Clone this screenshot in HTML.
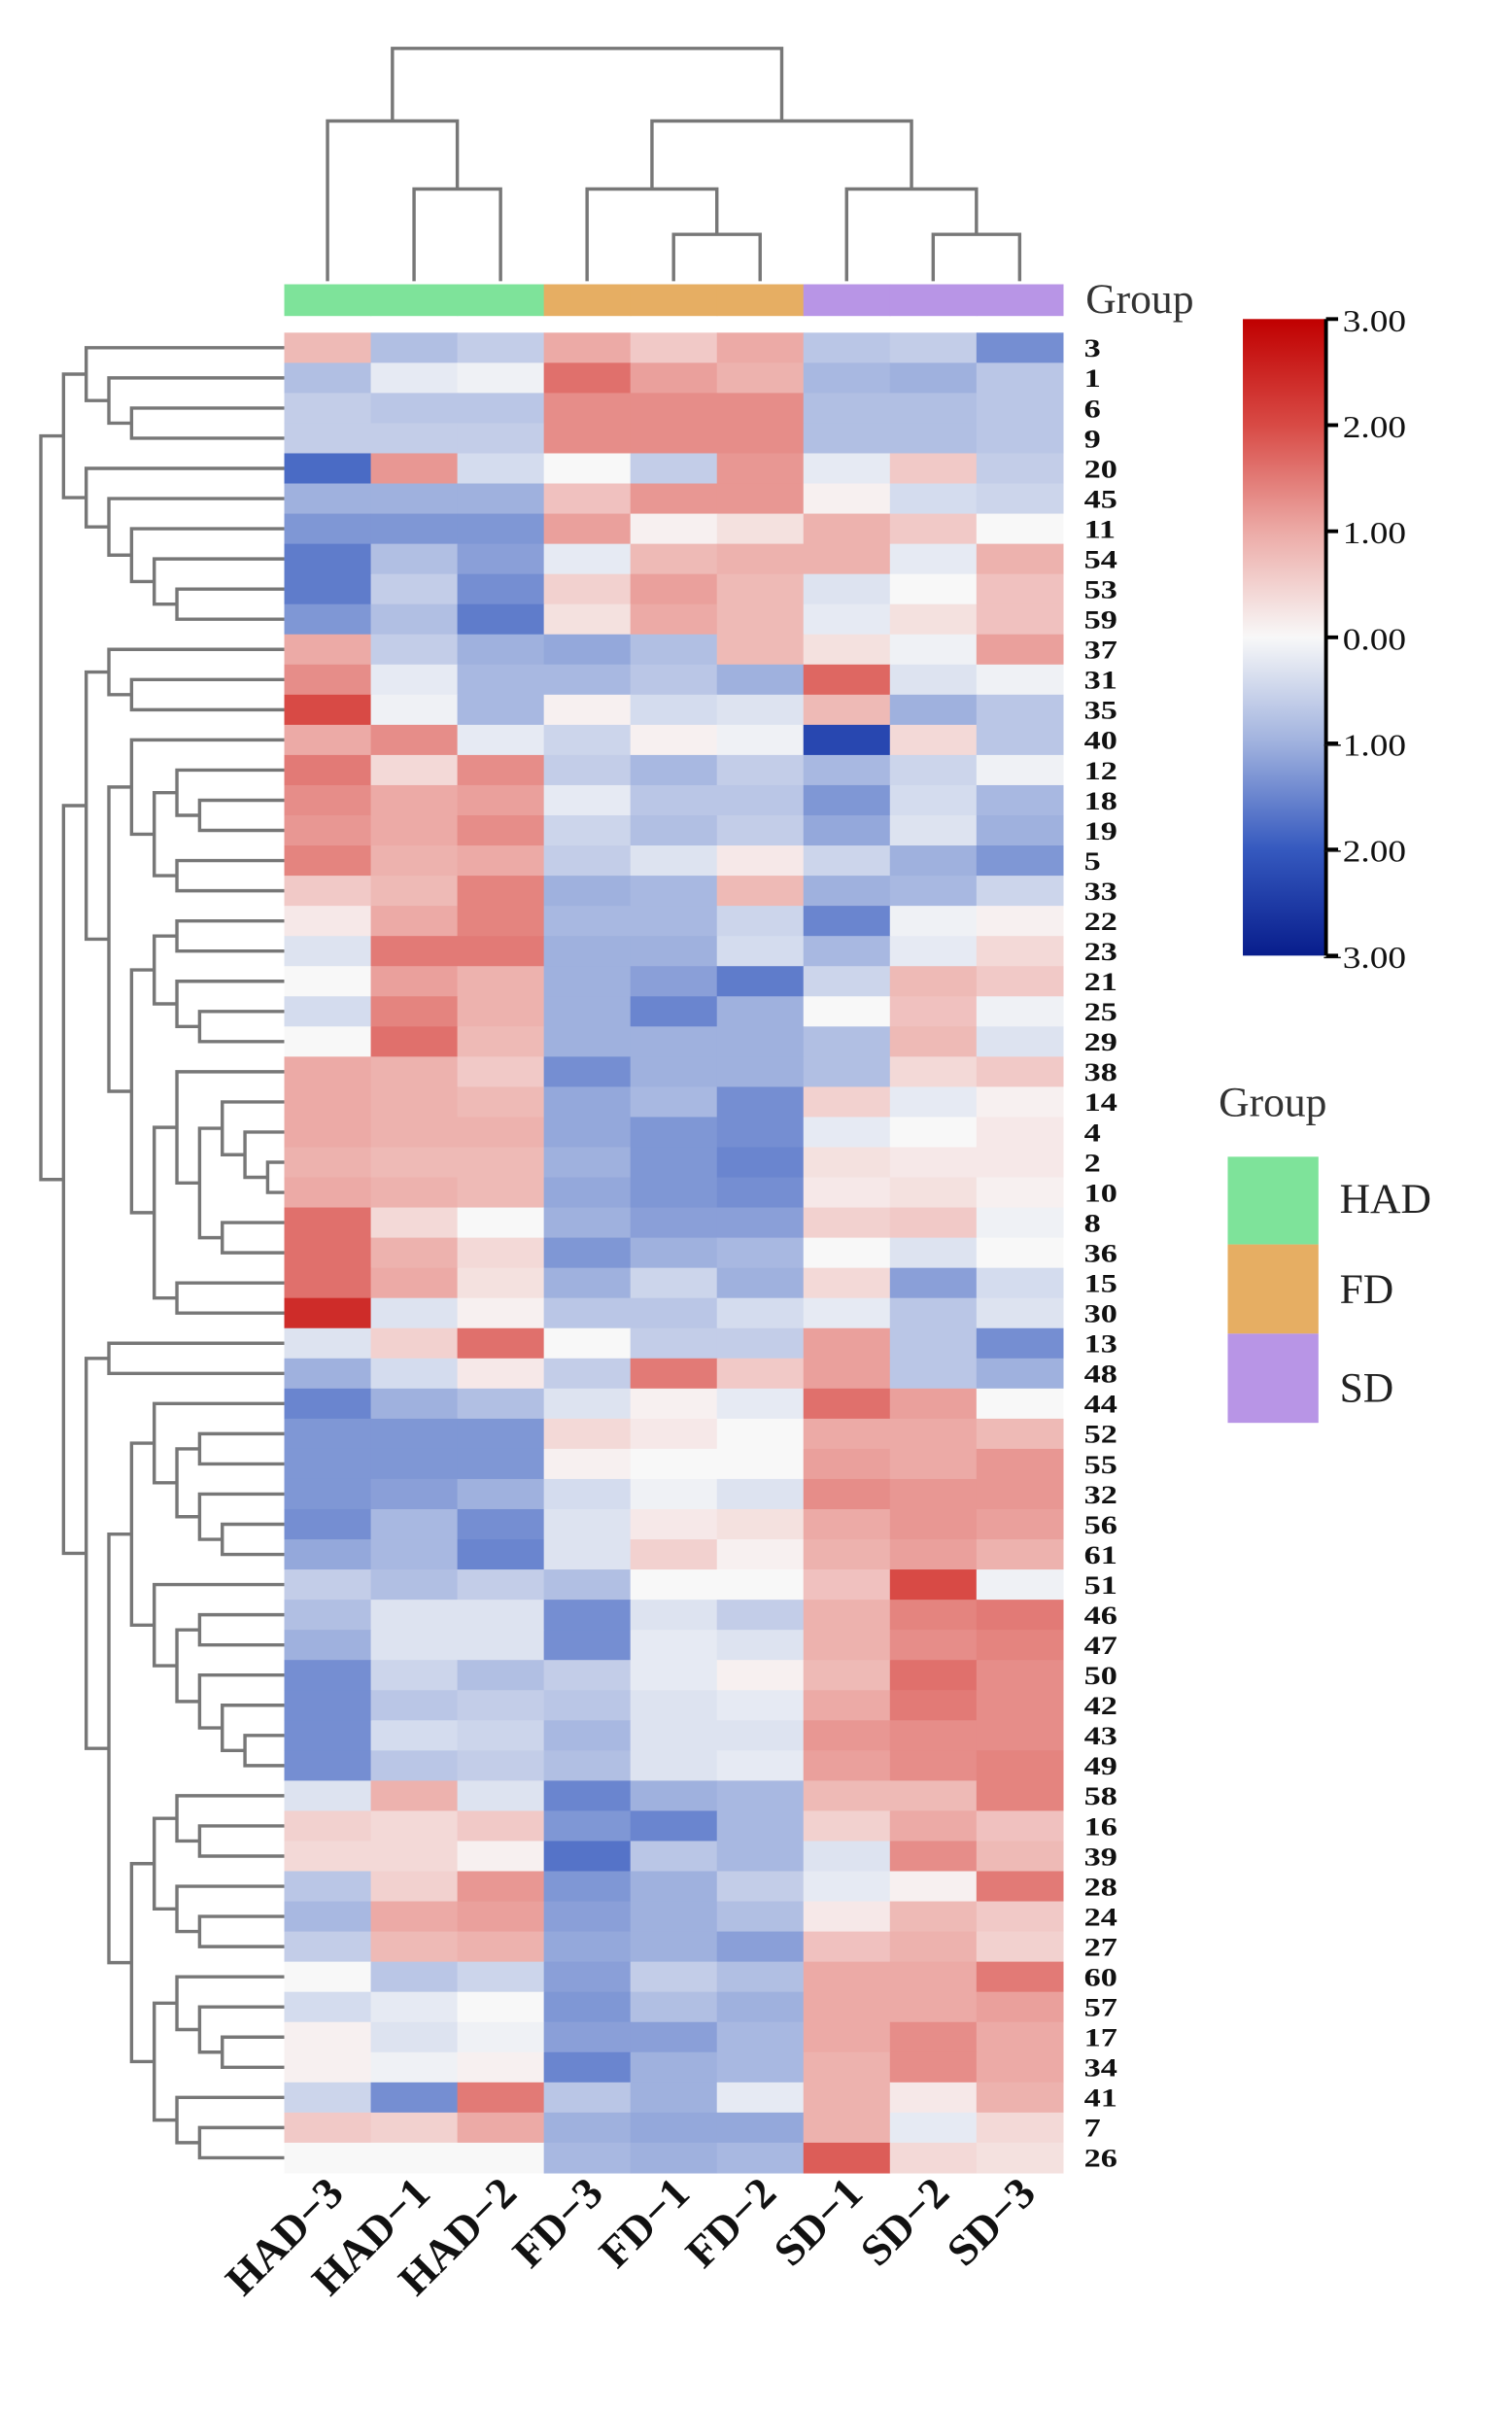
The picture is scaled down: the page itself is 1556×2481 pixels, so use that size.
<!DOCTYPE html>
<html><head><meta charset="utf-8"><style>
html,body{margin:0;padding:0;background:#fff;width:1556px;height:2481px;overflow:hidden}
svg{display:block}
</style></head><body>
<svg id="chart" width="1556" height="2481" viewBox="0 0 1000 1594.5" xmlns="http://www.w3.org/2000/svg" font-family="'Liberation Serif', serif">
<g id="coldendro"></g>
<g id="rowdendro"></g>
<g id="groupbar"></g>
<g id="cells"></g>
<g id="rowlabels"></g>
<g id="collabels"></g>
<text x="718" y="207" font-size="28" fill="#333">Group</text>
<defs><linearGradient id="cg" x1="0" y1="0" x2="0" y2="1">
<stop offset="0" stop-color="#c00000"/><stop offset="0.1667" stop-color="#d84a45"/><stop offset="0.3333" stop-color="#ecaaa6"/><stop offset="0.5" stop-color="#f8f8f8"/><stop offset="0.6667" stop-color="#9fb1de"/><stop offset="0.8333" stop-color="#3559bf"/><stop offset="1" stop-color="#081d8c"/></linearGradient></defs>
<rect x="822" y="211" width="54" height="421" fill="url(#cg)"/>
<g id="cbticks"></g>
<text x="806" y="738" font-size="28" fill="#333">Group</text>
<rect x="812" y="765" width="60" height="58" fill="#7ee39a"/>
<rect x="812" y="823" width="60" height="59" fill="#e6ae63"/>
<rect x="812" y="882" width="60" height="59" fill="#b895e6"/>
<text x="886" y="802" font-size="28" fill="#222">HAD</text>
<text x="886" y="862" font-size="28" fill="#222">FD</text>
<text x="886" y="927" font-size="28" fill="#222">SD</text>
</svg>
<script>
const columns = ["HAD\u22123","HAD\u22121","HAD\u22122","FD\u22123","FD\u22121","FD\u22122","SD\u22121","SD\u22122","SD\u22123"];
const groups = ["HAD","HAD","HAD","FD","FD","FD","SD","SD","SD"];
const rowNames = ["3","1","6","9","20","45","11","54","53","59","37","31","35","40","12","18","19","5","33","22","23","21","25","29","38","14","4","2","10","8","36","15","30","13","48","44","52","55","32","56","61","51","46","47","50","42","43","49","58","16","39","28","24","27","60","57","17","34","41","7","26"];
const values = [
[0.8,-0.8,-0.6,1.0,0.6,1.0,-0.7,-0.6,-1.4],
[-0.8,-0.2,-0.1,1.6,1.1,0.9,-0.9,-1.0,-0.7],
[-0.6,-0.7,-0.7,1.3,1.3,1.3,-0.8,-0.8,-0.7],
[-0.6,-0.6,-0.6,1.3,1.3,1.3,-0.8,-0.8,-0.7],
[-1.8,1.2,-0.4,0.0,-0.6,1.2,-0.2,0.6,-0.6],
[-1.0,-1.0,-1.0,0.7,1.2,1.2,0.1,-0.4,-0.5],
[-1.3,-1.3,-1.3,1.1,0.1,0.3,0.9,0.6,0.0],
[-1.6,-0.8,-1.2,-0.2,0.8,0.9,0.9,-0.2,0.9],
[-1.6,-0.6,-1.4,0.5,1.1,0.8,-0.3,0.0,0.7],
[-1.3,-0.8,-1.6,0.3,1.0,0.8,-0.2,0.3,0.7],
[1.0,-0.6,-1.0,-1.1,-0.8,0.8,0.3,-0.1,1.1],
[1.3,-0.2,-0.9,-0.9,-0.7,-1.0,1.7,-0.3,-0.1],
[2.0,-0.1,-0.9,0.1,-0.4,-0.3,0.8,-1.0,-0.7],
[1.0,1.3,-0.2,-0.5,0.1,-0.1,-2.3,0.4,-0.7],
[1.5,0.4,1.3,-0.6,-0.9,-0.6,-0.9,-0.5,-0.1],
[1.3,1.0,1.1,-0.2,-0.7,-0.7,-1.3,-0.4,-0.9],
[1.2,1.0,1.3,-0.5,-0.8,-0.6,-1.1,-0.3,-1.0],
[1.4,0.9,1.0,-0.6,-0.3,0.2,-0.5,-1.0,-1.3],
[0.6,0.8,1.4,-1.0,-0.9,0.8,-1.0,-0.9,-0.5],
[0.2,1.0,1.4,-0.9,-0.9,-0.5,-1.5,-0.1,0.1],
[-0.3,1.5,1.5,-1.0,-1.0,-0.4,-0.9,-0.2,0.4],
[0.0,1.1,0.9,-1.0,-1.2,-1.6,-0.5,0.8,0.6],
[-0.4,1.4,0.9,-1.0,-1.5,-1.0,0.0,0.7,-0.1],
[0.0,1.6,0.8,-1.0,-1.0,-1.0,-0.8,0.8,-0.3],
[1.0,0.9,0.6,-1.4,-1.0,-1.0,-0.8,0.4,0.6],
[1.0,0.9,0.8,-1.1,-0.9,-1.4,0.5,-0.2,0.1],
[1.0,0.9,0.9,-1.1,-1.3,-1.4,-0.2,0.0,0.2],
[0.9,0.8,0.8,-1.0,-1.3,-1.5,0.3,0.2,0.2],
[1.0,0.9,0.8,-1.1,-1.3,-1.4,0.2,0.3,0.1],
[1.6,0.4,0.0,-1.0,-1.2,-1.2,0.5,0.6,-0.1],
[1.6,0.9,0.4,-1.3,-1.0,-0.9,0.0,-0.3,0.0],
[1.6,1.0,0.3,-1.0,-0.5,-1.0,0.4,-1.2,-0.4],
[2.4,-0.3,0.1,-0.7,-0.7,-0.4,-0.2,-0.7,-0.3],
[-0.3,0.5,1.6,0.0,-0.6,-0.6,1.1,-0.7,-1.4],
[-1.0,-0.4,0.2,-0.6,1.5,0.6,1.1,-0.7,-1.0],
[-1.5,-1.0,-0.8,-0.3,0.1,-0.2,1.6,1.1,0.0],
[-1.3,-1.3,-1.3,0.4,0.2,0.0,1.0,1.0,0.8],
[-1.3,-1.3,-1.3,0.1,0.0,0.0,1.1,1.0,1.2],
[-1.3,-1.2,-1.0,-0.4,-0.1,-0.3,1.3,1.2,1.2],
[-1.4,-0.9,-1.4,-0.3,0.2,0.3,1.0,1.2,1.1],
[-1.1,-0.9,-1.5,-0.3,0.5,0.1,0.9,1.1,0.9],
[-0.6,-0.8,-0.6,-0.8,0.0,0.0,0.7,2.0,-0.1],
[-0.8,-0.3,-0.3,-1.4,-0.3,-0.6,0.9,1.4,1.5],
[-1.0,-0.3,-0.3,-1.4,-0.2,-0.3,0.9,1.3,1.4],
[-1.4,-0.5,-0.8,-0.6,-0.2,0.1,0.8,1.6,1.3],
[-1.4,-0.7,-0.6,-0.7,-0.3,-0.2,1.0,1.5,1.3],
[-1.4,-0.4,-0.5,-0.9,-0.3,-0.3,1.2,1.3,1.3],
[-1.4,-0.7,-0.6,-0.8,-0.3,-0.2,1.1,1.3,1.4],
[-0.3,0.9,-0.3,-1.5,-1.0,-0.9,0.8,0.8,1.4],
[0.5,0.4,0.6,-1.3,-1.5,-0.9,0.5,1.0,0.7],
[0.4,0.4,0.1,-1.7,-0.7,-0.9,-0.3,1.3,0.8],
[-0.7,0.5,1.2,-1.3,-1.0,-0.6,-0.2,0.1,1.5],
[-0.9,1.0,1.1,-1.2,-1.0,-0.8,0.2,0.8,0.6],
[-0.6,0.8,0.9,-1.1,-1.0,-1.2,0.7,0.9,0.5],
[0.0,-0.7,-0.5,-1.2,-0.6,-0.8,1.0,1.0,1.5],
[-0.4,-0.2,0.0,-1.3,-0.8,-1.0,1.0,1.0,1.1],
[0.1,-0.3,-0.1,-1.2,-1.2,-0.9,1.0,1.3,1.0],
[0.1,-0.1,0.1,-1.5,-1.0,-0.9,0.9,1.3,1.0],
[-0.5,-1.4,1.5,-0.7,-1.0,-0.2,0.9,0.2,0.9],
[0.6,0.5,1.0,-1.0,-1.1,-1.1,0.9,-0.2,0.4],
[0.0,0.0,0.0,-0.9,-1.0,-0.9,1.8,0.4,0.3]];
const scaleTicks = [3,2,1,0,-1,-2,-3];
const scaleStops = [-3,-2,-1,0,1,2,3];
const scaleColors = ["#081d8c","#3559bf","#9fb1de","#f8f8f8","#ecaaa6","#d84a45","#c00000"];
const groupColors = {HAD:"#7ee39a",FD:"#e6ae63",SD:"#b895e6"};
const rowTree = [0,
 [1,[2,0,[3,1,[4,2,3]]],[2,4,[3,5,[4,6,[5,7,[6,8,9]]]]]],
 [1,
  [2,[3,10,[4,11,12]],
     [3,[4,13,[5,[6,14,[7,15,16]],[6,17,18]]],
        [4,[5,[6,19,20],[6,21,[7,22,23]]],
           [5,[6,24,[7,[8,25,[9,26,[10,27,28]]],[8,29,30]]],[6,31,32]]]]],
  [2,[3,33,34],
     [3,[4,[5,35,[6,[7,36,37],[7,38,[8,39,40]]]],
           [5,41,[6,[7,42,43],[7,44,[8,45,[9,46,47]]]]]],
        [4,[5,[6,48,[7,49,50]],[6,51,[7,52,53]]],
           [5,[6,54,[7,55,[8,56,57]]],[6,58,[7,59,60]]]]]]]];
const colTree = [32,[80,0,[125,1,2]],[80,[125,3,[155,4,5]],[125,6,[155,7,8]]]];

const NS="http://www.w3.org/2000/svg";
const X0=188,X1=703,Y0=220,Y1=1437;
const cw=(X1-X0)/columns.length, rh=(Y1-Y0)/rowNames.length;
const xCol=i=>X0+i*cw, yRow=i=>Y0+i*rh;
function hex(c){return [1,3,5].map(k=>parseInt(c.substr(k,2),16));}
function colorOf(v){
  v=Math.max(-3,Math.min(3,v));
  let k=0; while(k<scaleStops.length-2 && v>scaleStops[k+1]) k++;
  const t=(v-scaleStops[k])/(scaleStops[k+1]-scaleStops[k]);
  const a=hex(scaleColors[k]), b=hex(scaleColors[k+1]);
  return "rgb("+a.map((x,j)=>Math.round(x+(b[j]-x)*t)).join(",")+")";
}
function mk(tag,attrs,parent){const e=document.createElementNS(NS,tag);for(const k in attrs)e.setAttribute(k,attrs[k]);parent.appendChild(e);return e;}

const cells=document.getElementById('cells');
values.forEach((row,r)=>row.forEach((v,c)=>{
  const e=mk('rect',{x:xCol(c),y:yRow(r),width:cw+0.4,height:rh+0.4,fill:colorOf(v)},cells);
  
  
}));
const gb=document.getElementById('groupbar');
groups.forEach((g,c)=>{
  const e=mk('rect',{x:xCol(c),y:188,width:cw+0.4,height:21,fill:groupColors[g]},gb);
  
  
});
const rl=document.getElementById('rowlabels');
rowNames.forEach((n,r)=>{
  const cy=yRow(r)+rh/2;
  const e=mk('text',{x:0,y:0,'font-size':22,'font-weight':'bold',fill:'#111',transform:`translate(717 ${cy+6}) scale(1 0.78)`},rl);
  e.textContent=n;
  
  
});
const cl=document.getElementById('collabels');
columns.forEach((n,c)=>{
  const cx=xCol(c)+cw/2+12;
  const e=mk('text',{x:0,y:0,'font-size':29,'font-weight':'bold',fill:'#111','text-anchor':'end',transform:`translate(${cx} 1452) rotate(-45)`},cl);
  e.textContent=n;
  
  
});
const rd=document.getElementById('rowdendro');
const lvX=l=>27+15*l;
function drawRow(n){
  if(typeof n==='number') return {y:yRow(n)+rh/2,x:X0};
  const a=drawRow(n[1]), b=drawRow(n[2]), x=lvX(n[0]);
  const p=mk('path',{d:`M${a.x} ${a.y}H${x}V${b.y}H${b.x}`,fill:'none',stroke:'#777','stroke-width':2.2},rd);
  
  
  return {y:(a.y+b.y)/2,x:x};
}
drawRow(rowTree);
const cd=document.getElementById('coldendro');
function drawCol(n){
  if(typeof n==='number') return {x:xCol(n)+cw/2,y:186};
  const a=drawCol(n[1]), b=drawCol(n[2]), y=n[0];
  const p=mk('path',{d:`M${a.x} ${a.y}V${y}H${b.x}V${b.y}`,fill:'none',stroke:'#777','stroke-width':2.2},cd);
  
  
  return {x:(a.x+b.x)/2,y:y};
}
drawCol(colTree);
const cb=document.getElementById('cbticks');
mk('line',{x1:877,y1:211,x2:877,y2:632,stroke:'#000','stroke-width':2.5},cb);
scaleTicks.forEach(t=>{
  const y=211+(3-t)/6*421;
  const l=mk('line',{x1:877,y1:y,x2:885,y2:y,stroke:'#000','stroke-width':2.5},cb);
  
  
  const e=mk('text',{x:0,y:0,'font-size':24,fill:'#111','text-anchor':'end',transform:`translate(930 ${y+8}) scale(1 0.85)`},cb);
  e.textContent=(t<0?'\u2212':'')+Math.abs(t).toFixed(2);
  
  
});
</script>
</body></html>
